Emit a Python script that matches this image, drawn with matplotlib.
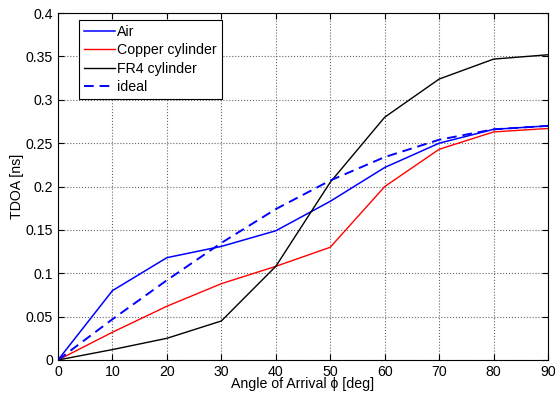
import matplotlib
matplotlib.use("Agg")
import matplotlib.pyplot as plt

plt.rcParams['font.family'] = ['Liberation Sans', 'DejaVu Sans']

angles = [0, 10, 20, 30, 40, 50, 60, 70, 80, 90]
air = [0, 0.080, 0.118, 0.131, 0.149, 0.183, 0.222, 0.250, 0.266, 0.270]
copper = [0, 0.032, 0.062, 0.088, 0.108, 0.130, 0.200, 0.243, 0.263, 0.267]
fr4 = [0, 0.012, 0.025, 0.045, 0.108, 0.205, 0.280, 0.324, 0.347, 0.352]
ideal = [0, 0.047, 0.092, 0.135, 0.174, 0.207, 0.234, 0.254, 0.266, 0.270]

fig = plt.figure(figsize=(5.55, 3.98), dpi=100)
ax = fig.add_axes([0.1045, 0.0955, 0.883, 0.8715])

ax.plot(angles, air, color='blue', lw=1.1, label='Air')
ax.plot(angles, copper, color='red', lw=1.0, label='Copper cylinder')
ax.plot(angles, fr4, color='black', lw=1.0, label='FR4 cylinder')
ax.plot(angles, ideal, color='blue', lw=1.4, ls=(0, (5, 3)), label='ideal')

ax.set_xlim(0, 90)
ax.set_ylim(0, 0.4)
ax.set_xticks(range(0, 91, 10))
ax.set_yticks([0, 0.05, 0.1, 0.15, 0.2, 0.25, 0.3, 0.35, 0.4])
ax.set_yticklabels(['0', '0.05', '0.1', '0.15', '0.2', '0.25', '0.3', '0.35', '0.4'])
ax.tick_params(direction='in', labelsize=10.2, length=4, top=True, right=True)
ax.grid(True, ls=':', color='#666666', lw=0.8)
for s in ax.spines.values():
    s.set_linewidth(0.8)

ax.set_xlabel('Angle of Arrival ϕ [deg]', fontsize=10.2, labelpad=-1)
ax.set_ylabel('TDOA [ns]', fontsize=10.2, labelpad=1)

leg = ax.legend(loc='upper left', bbox_to_anchor=(0.043, 0.98), fontsize=10.2,
                fancybox=False, framealpha=1, edgecolor='black', borderpad=0.35,
                labelspacing=0.3, handlelength=2.2, handletextpad=0.15, borderaxespad=0)
leg.get_frame().set_linewidth(0.8)

fig.savefig('out.png', dpi=100)
